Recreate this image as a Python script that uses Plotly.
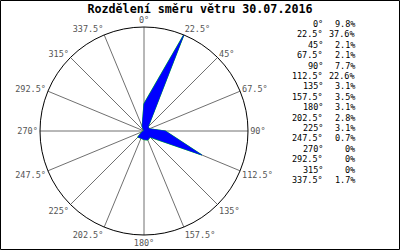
import plotly.graph_objects as go

directions = [0, 22.5, 45, 67.5, 90, 112.5, 135, 157.5, 180, 202.5, 225, 247.5, 270, 292.5, 315, 337.5]
dir_labels = ["0°", "22.5°", "45°", "67.5°", "90°", "112.5°", "135°", "157.5°", "180°",
              "202.5°", "225°", "247.5°", "270°", "292.5°", "315°", "337.5°"]
percent = [9.8, 37.6, 2.1, 2.1, 7.7, 22.6, 3.1, 3.5, 3.1, 2.8, 3.1, 0.7, 0, 0, 0, 1.7]
percent_labels = ["9.8%", "37.6%", "2.1%", "2.1%", "7.7%", "22.6%", "3.1%", "3.5%", "3.1%",
                  "2.8%", "3.1%", "0.7%", "0%", "0%", "0%", "1.7%"]
title = "Rozdělení směru větru 30.07.2016"

mono = "DejaVu Sans Mono"

fig = go.Figure()
fig.add_trace(go.Scatterpolar(
    r=percent + [percent[0]], theta=directions + [directions[0]],
    mode="lines", fill="toself", fillcolor="#0000ff",
    line=dict(color="#00dd00", width=1.2), hoverinfo="skip", showlegend=False))
fig.add_trace(go.Scatterpolar(
    r=percent + [percent[0]], theta=directions + [directions[0]],
    mode="lines", fill="toself", fillcolor="#0000ff",
    line=dict(color="#0000ff", width=0.6), hoverinfo="skip", showlegend=False))

fig.update_layout(
    width=400, height=250,
    margin=dict(l=0, r=0, t=0, b=0),
    paper_bgcolor="white", plot_bgcolor="white",
    showlegend=False,
    polar=dict(
        domain=dict(x=[40/400, 248/400], y=[1-235/250, 1-27/250]),
        bgcolor="white",
        radialaxis=dict(range=[0, max(percent)], visible=False, showgrid=False),
        angularaxis=dict(
            direction="clockwise", rotation=90,
            tickmode="array", tickvals=directions, ticktext=dir_labels,
            showgrid=True, gridcolor="#707070", gridwidth=1,
            showline=True, linecolor="black", linewidth=1,
            ticks="", tickfont=dict(family=mono, size=8.5, color="#555555"),
        ),
    ),
    title=dict(text="<b>" + title + "</b>", x=0.5, xanchor="center",
               y=1 - 9/250, yanchor="middle",
               font=dict(family=mono, size=11.7, color="black")),
)

y0 = 24
dy = 10.4
for i, (a, p) in enumerate(zip(dir_labels, percent_labels)):
    yy = 1 - (y0 + i * dy) / 250
    fig.add_annotation(text=a, x=325/400, y=yy, xref="paper", yref="paper",
                       xanchor="right", yanchor="middle", showarrow=False,
                       font=dict(family=mono, size=8.5, color="black"))
    fig.add_annotation(text=p, x=357/400, y=yy, xref="paper", yref="paper",
                       xanchor="right", yanchor="middle", showarrow=False,
                       font=dict(family=mono, size=8.5, color="black"))

fig.add_shape(type="rect", xref="paper", yref="paper",
              x0=0.5/400, x1=1-0.5/400, y0=0.5/250, y1=1-0.5/250,
              line=dict(color="black", width=1), fillcolor="rgba(0,0,0,0)")

fig.write_html("out.html")
